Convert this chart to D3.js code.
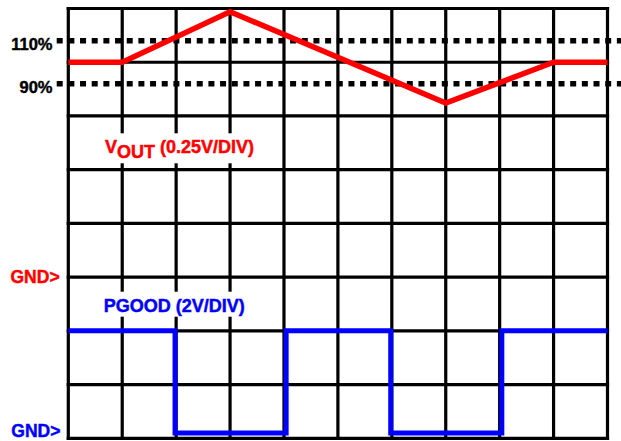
<!DOCTYPE html>
<html>
<head>
<meta charset="utf-8">
<script src="https://cdn.jsdelivr.net/npm/d3@7"></script>
<style>
  html, body { margin: 0; padding: 0; background: #fff; }
  svg { display: block; }
</style>
</head>
<body>
<svg id="chart" width="621" height="441"></svg>
<script>
// ---- data ----
const timeDivs = [0, 1, 3, 7, 9, 10];                 // time (divisions)
const voutValues = [1.0, 1.0, 1.235, 0.81, 1.0, 1.0]; // VOUT (V), 0.25 V/div
const pgoodTimes = [0, 1.98, 4.04, 5.98, 8.04, 10];   // PGOOD edge times (div)
const pgoodValues = [4, 0.2, 4, 0.2, 4, 4];           // PGOOD level (V), 2 V/div
const thresholdValues = [1.1, 0.9];
const thresholdLabels = ["110%", "90%"];
const xDivs = d3.range(0, 11);
const yDivs = d3.range(0, 9);

// ---- scales ----
const svg = d3.select("#chart")
  .attr("font-family", "Arial, 'Liberation Sans', sans-serif")
  .attr("font-weight", "bold");
const gLeft = 68.3, gRight = 607.5, gTop = 8.5, gBottom = 438.3;
const x = d3.scaleLinear().domain([0, 10]).range([gLeft, gRight]);
const yDiv = d3.scaleLinear().domain([0, 8]).range([gBottom, gTop]);
const yVout = d3.scaleLinear().domain([-0.75, 1.25]).range([gBottom, gTop]);
const yPg = d3.scaleLinear().domain([0, 16]).range([gBottom, gTop]);

// ---- grid ----
const grid = svg.append("g").attr("stroke", "#000").attr("stroke-width", 3.2);
grid.selectAll("line.v").data(xDivs).join("line")
  .attr("x1", d => x(d)).attr("x2", d => x(d))
  .attr("y1", gTop - 1.6).attr("y2", gBottom + 1.6);
grid.selectAll("line.h").data(yDivs).join("line")
  .attr("y1", d => yDiv(d)).attr("y2", d => yDiv(d))
  .attr("x1", gLeft - 1.6).attr("x2", gRight + 1.6);

// ---- threshold dotted lines ----
svg.append("g").selectAll("line").data(thresholdValues).join("line")
  .attr("x1", 56.7).attr("x2", 621)
  .attr("y1", d => yVout(d)).attr("y2", d => yVout(d))
  .attr("stroke", "#000").attr("stroke-width", 5.5)
  .attr("stroke-dasharray", "6,5.67");

// ---- text labels with white backgrounds ----
function boxed(sel, padX, padTop, padBot) {
  const b = sel.node().getBBox();
  const r = document.createElementNS("http://www.w3.org/2000/svg", "rect");
  r.setAttribute("x", b.x - padX); r.setAttribute("y", b.y - padTop);
  r.setAttribute("width", b.width + 2 * padX); r.setAttribute("height", b.height + padTop + padBot);
  r.setAttribute("fill", "#fff");
  sel.node().parentNode.insertBefore(r, sel.node());
}
function heavy(sel, color) {
  return sel.attr("fill", color).attr("stroke", color).attr("stroke-width", 0.45);
}
const labels = svg.append("g");

const vt = heavy(labels.append("text").attr("x", 105).attr("y", 153.3)
  .attr("font-size", 18), "#ff0000");
vt.append("tspan").text("V");
vt.append("tspan").attr("dy", 5).text("OUT");
vt.append("tspan").attr("dy", -5).text(" (0.25V/DIV)");
boxed(vt, 5, 4, 1);

const pt = heavy(labels.append("text").attr("x", 103.7).attr("y", 311.7)
  .attr("font-size", 18), "#0000ff").text("PGOOD (2V/DIV)");
boxed(pt, 5, 4, 1);

// ---- traces ----
svg.append("path")
  .datum(timeDivs.map((t, i) => [t, voutValues[i]]))
  .attr("fill", "none").attr("stroke", "#ff0000").attr("stroke-width", 5.5)
  .attr("d", d3.line().x(d => x(d[0])).y(d => yVout(d[1])));

svg.append("path")
  .datum(pgoodTimes.map((t, i) => [t, pgoodValues[i]]))
  .attr("fill", "none").attr("stroke", "#0000ff").attr("stroke-width", 5)
  .attr("d", d3.line().curve(d3.curveStepAfter).x(d => x(d[0])).y(d => yPg(d[1])));

// ---- axis-side labels ----
labels.raise();
heavy(svg.append("g").selectAll("text").data(thresholdValues).join("text")
  .attr("x", 52.5).attr("y", d => yVout(d) + 8.8)
  .attr("text-anchor", "end").attr("font-size", 16.5), "#000")
  .text((d, i) => thresholdLabels[i]);

heavy(svg.append("text").attr("x", 10.5).attr("y", yVout(0) + 6)
  .attr("font-size", 17.5), "#ff0000").text("GND>");
heavy(svg.append("text").attr("x", 11.3).attr("y", yPg(0) - 1.8)
  .attr("font-size", 17.5), "#0000ff").text("GND>");
</script>
</body>
</html>
